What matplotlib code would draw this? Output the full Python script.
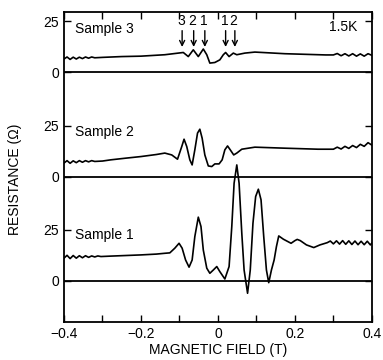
import numpy as np
import matplotlib.pyplot as plt

plt.rcParams['font.family'] = ['Liberation Sans', 'DejaVu Sans']

# vertical offset between traces (ohm)
offsets = [0, 51, 102]
sample_names = ['Sample 1', 'Sample 2', 'Sample 3']

# Sample 1
s1_field = [-0.400, -0.392, -0.384, -0.376, -0.368, -0.360, -0.352, -0.344, -0.336, -0.328,
            -0.320, -0.312, -0.304, -0.280, -0.240, -0.200, -0.160, -0.138, -0.125, -0.112,
            -0.101, -0.093, -0.084, -0.075, -0.067, -0.060, -0.051, -0.044, -0.038, -0.029,
            -0.021, -0.012, -0.003, 0.005, 0.018, 0.029, 0.036, 0.042, 0.049, 0.055,
            0.062, 0.068, 0.077, 0.084, 0.091, 0.098, 0.105, 0.112, 0.119, 0.126,
            0.132, 0.139, 0.146, 0.152, 0.158, 0.170, 0.180, 0.190, 0.200, 0.206,
            0.214, 0.230, 0.249, 0.265, 0.284, 0.292, 0.300, 0.308, 0.316, 0.324,
            0.332, 0.340, 0.348, 0.356, 0.364, 0.372, 0.380, 0.388, 0.396, 0.400]
s1_res = [11.0, 12.4, 10.8, 12.3, 11.0, 12.2, 11.2, 12.2, 11.4, 12.1,
          11.6, 12.1, 11.8, 12.0, 12.3, 12.6, 13.0, 13.4, 13.6, 15.9,
          18.3, 15.9, 10.1, 6.6, 10.1, 21.6, 31.1, 26.5, 15.0, 6.1,
          3.6, 5.2, 6.9, 4.4, 0.8, 6.9, 26.5, 47.7, 56.7, 47.7,
          23.2, 5.2, -6.2, 5.2, 28.1, 41.2, 44.8, 39.6, 21.6, 5.2,
          -1.0, 5.2, 10.1, 16.7, 21.9, 20.3, 19.3, 18.3, 19.6, 20.2,
          19.6, 17.5, 16.2, 17.5, 18.6, 19.4, 18.0, 19.5, 17.9, 19.6,
          17.8, 19.5, 17.7, 19.4, 17.6, 19.3, 17.6, 19.3, 17.5, 18.4]

# Sample 2
s2_field = [-0.400, -0.392, -0.384, -0.376, -0.368, -0.360, -0.352, -0.344, -0.336, -0.328,
            -0.320, -0.300, -0.278, -0.240, -0.200, -0.160, -0.138, -0.120, -0.105, -0.094,
            -0.088, -0.081, -0.073, -0.067, -0.060, -0.053, -0.047, -0.041, -0.034, -0.025,
            -0.016, -0.008, 0.003, 0.011, 0.018, 0.025, 0.032, 0.041, 0.049, 0.062,
            0.096, 0.174, 0.260, 0.300, 0.310, 0.320, 0.330, 0.340, 0.350, 0.360,
            0.370, 0.380, 0.390, 0.400]
s2_res = [6.6, 7.8, 6.5, 7.7, 6.8, 7.8, 7.0, 7.8, 7.2, 7.8,
          7.4, 7.6, 8.2, 9.0, 9.8, 10.8, 11.5, 10.6, 8.5, 14.7,
          18.3, 14.7, 8.2, 5.7, 13.1, 21.3, 23.2, 18.8, 10.6, 5.2,
          4.9, 6.2, 6.2, 8.2, 13.1, 15.0, 13.1, 10.6, 11.5, 13.4,
          14.4, 13.9, 13.4, 13.4, 14.4, 13.5, 14.8, 13.8, 15.2, 14.2,
          15.8, 14.8, 16.6, 15.4]

# Sample 3
s3_field = [-0.400, -0.392, -0.384, -0.376, -0.368, -0.360, -0.352, -0.344, -0.336, -0.328,
            -0.320, -0.300, -0.250, -0.200, -0.138, -0.103, -0.090, -0.077, -0.064, -0.051,
            -0.038, -0.029, -0.021, -0.008, 0.005, 0.014, 0.020, 0.029, 0.040, 0.049,
            0.070, 0.096, 0.174, 0.280, 0.300, 0.310, 0.320, 0.330, 0.340, 0.350,
            0.360, 0.370, 0.380, 0.390, 0.400]
s3_res = [6.6, 7.6, 6.4, 7.5, 6.6, 7.5, 6.8, 7.6, 7.0, 7.6,
          7.2, 7.4, 7.8, 8.0, 8.7, 9.5, 9.8, 7.8, 11.1, 7.8,
          11.5, 8.7, 4.6, 4.9, 6.2, 8.7, 9.8, 7.8, 9.5, 8.7,
          9.5, 10.0, 9.2, 8.6, 8.6, 9.3, 8.2, 9.2, 8.1, 9.2,
          8.0, 9.1, 8.0, 9.2, 8.4]

# arrows marking the peaks of sample 3
arrow_field = [-0.093, -0.063, -0.034, 0.020, 0.044]
arrow_labels = ['3', '2', '1', '1', '2']
label_field = [-0.096, -0.066, -0.037, 0.017, 0.040]

fig = plt.figure(figsize=(3.83, 3.6), dpi=100)
ax = fig.add_axes([0.167, 0.106, 0.804, 0.861])

traces = [(s1_field, s1_res), (s2_field, s2_res), (s3_field, s3_res)]
for (fx, fy), off in zip(traces, offsets):
    ax.plot(fx, np.array(fy) + off, color='black', lw=1.2)
    ax.axhline(off, color='black', lw=1.3)

label_pos = [(-0.371, 22.4), (-0.371, 72.9), (-0.371, 123.4)]
for name, (tx, ty) in zip(sample_names, label_pos):
    ax.text(tx, ty, name, fontsize=10, ha='left', va='center')
ax.text(0.325, 124.4, '1.5K', fontsize=10, ha='center', va='center')

for xa, lx, lab in zip(arrow_field, label_field, arrow_labels):
    ax.annotate('', xy=(xa, 114.5), xytext=(xa, 122.5),
                arrowprops=dict(arrowstyle='->', color='black', lw=1.0,
                                shrinkA=0, shrinkB=0, mutation_scale=9))
    ax.text(lx, 127.3, lab, fontsize=10, ha='center', va='center')

ax.set_xlim(-0.4, 0.4)
ax.set_ylim(-20.2, 131.7)
ax.set_xticks([-0.4, -0.2, 0, 0.2, 0.4])
ax.set_xticklabels(['\u22120.4', '\u22120.2', '0', '0.2', '0.4'])
ax.set_xticks([-0.3, -0.1, 0.1, 0.3], minor=True)
ax.set_yticks([0, 25, 51, 76, 102, 127])
ax.set_yticklabels(['0', '25', '0', '25', '0', '25'])
ax.tick_params(which='both', direction='in', top=True, right=True,
               length=5, width=1.0, labelsize=10)
for sp in ax.spines.values():
    sp.set_linewidth(1.3)

ax.set_xlabel('MAGNETIC FIELD (T)', fontsize=10)
ax.xaxis.set_label_coords(0.5, -0.068)
ax.set_ylabel('RESISTANCE (\u03a9)', fontsize=10)
ax.yaxis.set_label_coords(-0.135, 0.46)

fig.savefig('out.png', dpi=100)
